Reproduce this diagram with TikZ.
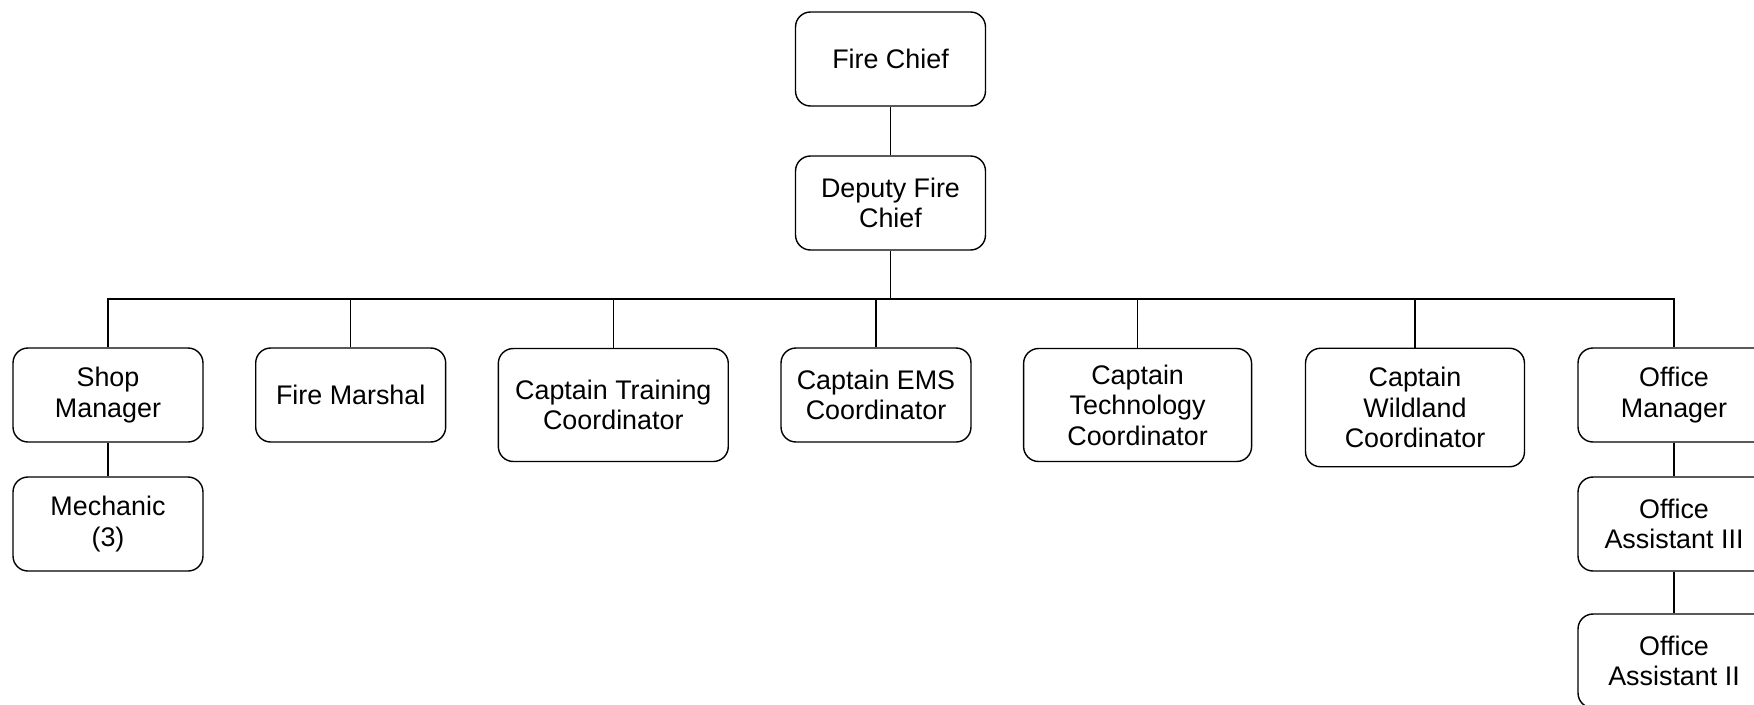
\documentclass[tikz,border=0pt]{standalone}
\usepackage{fontspec}
\setmainfont{Liberation Sans}
\tikzset{
  post/.style={draw, rounded corners=8.5pt, line width=0.8pt, align=center,
    minimum width=3.8cm, minimum height=1.88cm, inner sep=2pt,
    font=\fontsize{15.3}{17.4}\selectfont},
  link/.style={line width=0.8pt}
}
\begin{document}
\begin{tikzpicture}[x=0.02cm,y=-0.02cm]
    \useasboundingbox (0,0) rectangle (1754,704);
    \clip (0,0) rectangle (1754,704);
    % top of the chart
    \node[post] (chief) at (890.5,59) {Fire Chief};
    \node[post] (deputy) at (890.5,203) {Deputy Fire\\Chief};
    % second row
    \node[post] (shop) at (108,395) {Shop\\Manager};
    \node[post] (marshal) at (350.7,395) {Fire Marshal};
    \node[post,minimum width=4.6cm,minimum height=2.26cm] (training) at (613.3,405) {Captain Training\\Coordinator};
    \node[post] (ems) at (876,395) {Captain EMS\\Coordinator};
    \node[post,minimum width=4.56cm,minimum height=2.26cm] (tech) at (1137.6,405) {Captain\\Technology\\Coordinator};
    \node[post,minimum width=4.38cm,minimum height=2.37cm] (wild) at (1415,407.5) {Captain\\Wildland\\Coordinator};
    \node[post,minimum width=3.84cm] (office) at (1674,395) {Office\\Manager};
    % below the row
    \node[post] (mech) at (108,524) {Mechanic\\(3)};
    \node[post,minimum width=3.84cm] (oa3) at (1674,524) {Office\\Assistant III};
    \node[post,minimum width=3.84cm] (oa2) at (1674,661) {Office\\Assistant II};
    \coordinate (bus) at (890.5,299);

    \draw[link] (chief) -- (deputy);
    \draw[link] (deputy) -- (bus);
    \draw[link] (shop.north) -- (shop.north |- bus) -- (office.north |- bus) -- (office.north);
    \draw[link] (marshal.north) -- (marshal.north |- bus);
    \draw[link] (training.north) -- (training.north |- bus);
    \draw[link] (ems.north) -- (ems.north |- bus);
    \draw[link] (tech.north) -- (tech.north |- bus);
    \draw[link] (wild.north) -- (wild.north |- bus);
    \draw[link] (shop) -- (mech);
    \draw[link] (office) -- (oa3);
    \draw[link] (oa3) -- (oa2);
  \end{tikzpicture}
\end{document}
